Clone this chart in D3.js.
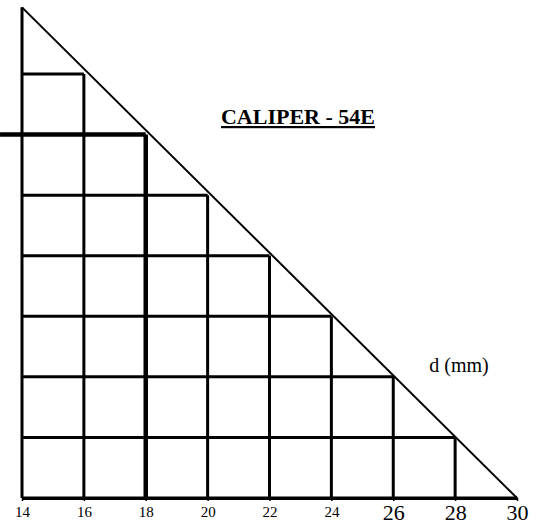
<!DOCTYPE html>
<html>
<head>
<meta charset="utf-8">
<script src="https://cdn.jsdelivr.net/npm/d3@7"></script>
<style>
  body { margin: 0; background: #fff; }
  svg { display: block; }
</style>
</head>
<body>
<div id="chart"></div>
<script>
// values
var dTicks = [14, 16, 18, 20, 22, 24, 26, 28, 30];
var bigTicks = [26, 28, 30];          // drawn with larger labels
var steps = [16, 18, 20, 22, 24, 26, 28, 30];   // staircase under the diagonal
var thickStep = 18;
var apexLevel = 13.8;                 // top of the diagonal, in d units
var leftOvershoot = 13.29;            // thick line at 18 runs past the axis
var title = "CALIPER - 54E";
var unitLabel = "d (mm)";

var width = 544, height = 525;

var svg = d3.select("#chart")
  .append("svg")
    .attr("width", width)
    .attr("height", height);

var x = d3.scaleLinear().domain([14, 30]).range([22, 517]);
var y = d3.scaleLinear().domain([14, 30]).range([13.4, 498]);

var grid = svg.append("g").attr("stroke", "#000").attr("fill", "none");

// horizontal lines of the staircase
grid.selectAll("line.h")
  .data(steps)
  .enter()
  .append("line")
    .attr("class", "h")
    .attr("x1", function(d) { return d == thickStep ? x(leftOvershoot) : x(14); })
    .attr("x2", function(d) { return x(d); })
    .attr("y1", function(d) { return y(d); })
    .attr("y2", function(d) { return y(d); })
    .attr("stroke-width", function(d) { return d == thickStep ? 4.5 : 3; });

// vertical lines of the staircase
grid.selectAll("line.v")
  .data(steps.filter(function(d) { return d < 30; }))
  .enter()
  .append("line")
    .attr("class", "v")
    .attr("x1", function(d) { return x(d); })
    .attr("x2", function(d) { return x(d); })
    .attr("y1", function(d) { return y(d); })
    .attr("y2", y(30))
    .attr("stroke-width", function(d) { return d == thickStep ? 4.5 : 3; });

// left edge
grid.append("line")
  .attr("x1", x(14)).attr("x2", x(14))
  .attr("y1", y(apexLevel)).attr("y2", y(30))
  .attr("stroke-width", 3);

// diagonal
grid.append("line")
  .attr("x1", x(14)).attr("y1", y(apexLevel))
  .attr("x2", x(30)).attr("y2", y(30))
  .attr("stroke-width", 2);

// bottom axis
var xAxis = svg.append("g")
  .attr("transform", "translate(0," + y(30) + ")")
  .call(d3.axisBottom(x).tickValues(dTicks).tickSize(3).tickSizeOuter(0).tickFormat(d3.format("d")));

xAxis.select(".domain").attr("stroke-width", 3);
xAxis.selectAll(".tick line").attr("stroke-width", 1.5);
xAxis.selectAll(".tick text")
  .attr("font-family", "'Liberation Serif', 'Times New Roman', serif")
  .attr("fill", "#000")
  .attr("font-size", function(d) { return bigTicks.indexOf(d) >= 0 ? 22 : 15; })
  .attr("y", function(d) { return bigTicks.indexOf(d) >= 0 ? 6 : 8; });

// title
svg.append("text")
  .attr("x", 298)
  .attr("y", 124)
  .attr("text-anchor", "middle")
  .attr("font-family", "'Liberation Serif', 'Times New Roman', serif")
  .attr("font-weight", "bold")
  .attr("font-size", 22)
  .attr("text-decoration", "underline")
  .text(title);

// unit label
svg.append("text")
  .attr("x", 459)
  .attr("y", 372)
  .attr("text-anchor", "middle")
  .attr("font-family", "'Liberation Serif', 'Times New Roman', serif")
  .attr("font-size", 20)
  .text(unitLabel);
</script>
</body>
</html>
